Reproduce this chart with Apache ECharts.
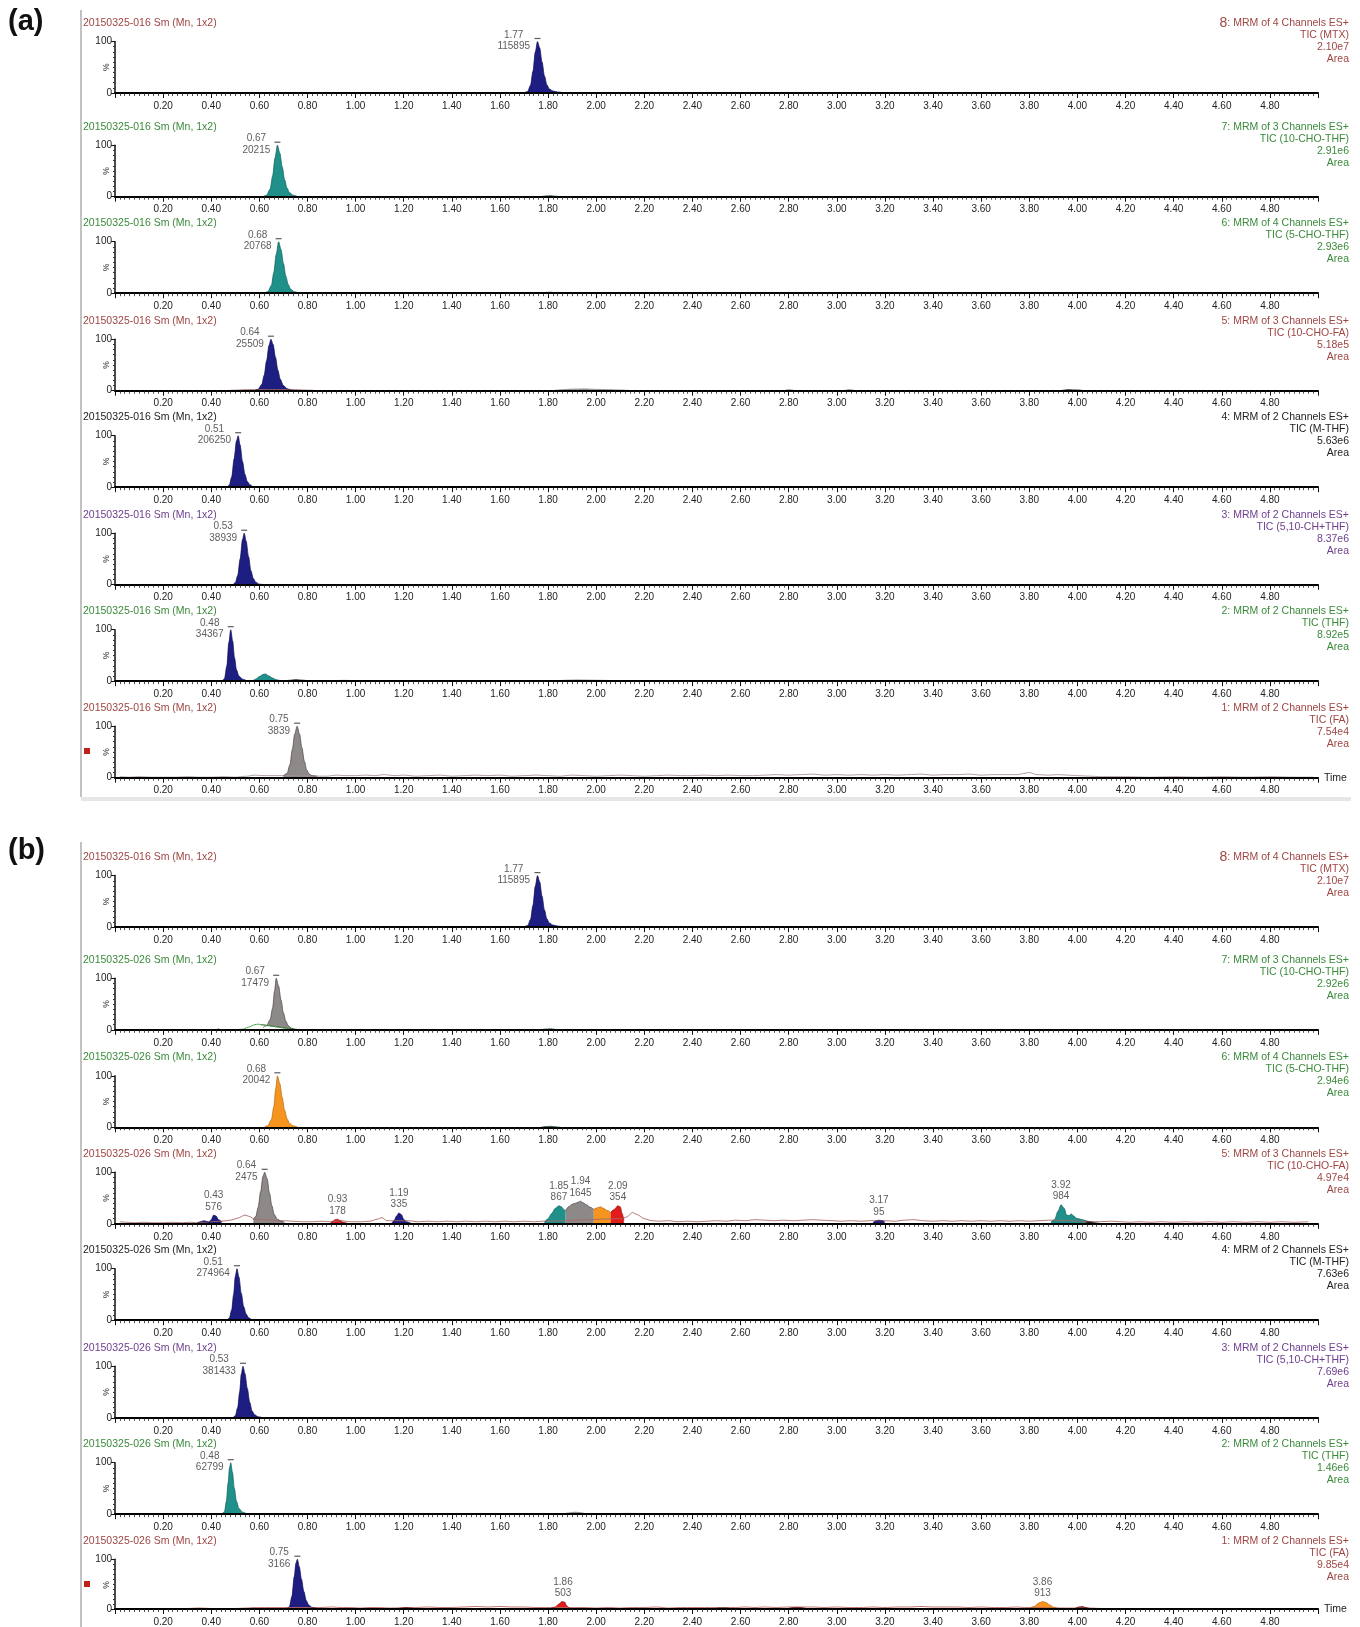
<!DOCTYPE html>
<html><head><meta charset="utf-8">
<script src="https://cdn.jsdelivr.net/npm/echarts/dist/echarts.min.js"></script>
<style>html,body{margin:0;padding:0;background:#fff}#c{width:1360px;height:1627px}</style>
</head><body><div id="c"></div>
<script>
const FONT='"Liberation Sans", Arial, Helvetica, sans-serif';

// ---------- text ----------
const headersA=['20150325-016 Sm (Mn, 1x2)','20150325-016 Sm (Mn, 1x2)','20150325-016 Sm (Mn, 1x2)','20150325-016 Sm (Mn, 1x2)','20150325-016 Sm (Mn, 1x2)','20150325-016 Sm (Mn, 1x2)','20150325-016 Sm (Mn, 1x2)','20150325-016 Sm (Mn, 1x2)'];
const headersB=['20150325-016 Sm (Mn, 1x2)','20150325-026 Sm (Mn, 1x2)','20150325-026 Sm (Mn, 1x2)','20150325-026 Sm (Mn, 1x2)','20150325-026 Sm (Mn, 1x2)','20150325-026 Sm (Mn, 1x2)','20150325-026 Sm (Mn, 1x2)','20150325-026 Sm (Mn, 1x2)'];
const channelsA=[
 ['8: MRM of 4 Channels ES+','TIC (MTX)','2.10e7','Area'],
 ['7: MRM of 3 Channels ES+','TIC (10-CHO-THF)','2.91e6','Area'],
 ['6: MRM of 4 Channels ES+','TIC (5-CHO-THF)','2.93e6','Area'],
 ['5: MRM of 3 Channels ES+','TIC (10-CHO-FA)','5.18e5','Area'],
 ['4: MRM of 2 Channels ES+','TIC (M-THF)','5.63e6','Area'],
 ['3: MRM of 2 Channels ES+','TIC (5,10-CH+THF)','8.37e6','Area'],
 ['2: MRM of 2 Channels ES+','TIC (THF)','8.92e5','Area'],
 ['1: MRM of 2 Channels ES+','TIC (FA)','7.54e4','Area']];
const channelsB=[
 ['8: MRM of 4 Channels ES+','TIC (MTX)','2.10e7','Area'],
 ['7: MRM of 3 Channels ES+','TIC (10-CHO-THF)','2.92e6','Area'],
 ['6: MRM of 4 Channels ES+','TIC (5-CHO-THF)','2.94e6','Area'],
 ['5: MRM of 3 Channels ES+','TIC (10-CHO-FA)','4.97e4','Area'],
 ['4: MRM of 2 Channels ES+','TIC (M-THF)','7.63e6','Area'],
 ['3: MRM of 2 Channels ES+','TIC (5,10-CH+THF)','7.69e6','Area'],
 ['2: MRM of 2 Channels ES+','TIC (THF)','1.46e6','Area'],
 ['1: MRM of 2 Channels ES+','TIC (FA)','9.85e4','Area']];

// ---------- (a) data: [time, %] ----------
const a1_mtx=[[1.70,0],[1.715,3],[1.727,15],[1.737,42],[1.747,80],[1.756,100],[1.765,88],[1.775,60],[1.785,33],[1.795,16],[1.805,8],[1.82,4],[1.84,2],[1.87,0]];
const a2_peak=[[0.615,0],[0.63,3],[0.645,15],[0.655,40],[0.665,75],[0.675,100],[0.685,85],[0.695,58],[0.705,33],[0.715,17],[0.725,8],[0.74,3],[0.76,0]];
const a2_minor=[[1.77,0],[1.79,1.5],[1.81,2],[1.83,1],[1.85,0]];
const a3_peak=[[0.62,0],[0.635,3],[0.65,15],[0.66,40],[0.67,75],[0.68,100],[0.69,85],[0.70,58],[0.71,33],[0.72,17],[0.73,8],[0.745,3],[0.765,0]];
const a3_minor=[[1.77,0],[1.79,1.5],[1.81,2],[1.83,1],[1.85,0]];
const a4_trace=[[0.45,0],[0.50,1],[0.55,2],[0.58,2],[0.75,2],[0.80,1],[0.85,0]];
const a4_peak=[[0.58,0],[0.595,3],[0.61,12],[0.62,30],[0.63,58],[0.64,88],[0.648,100],[0.657,90],[0.667,65],[0.677,40],[0.687,22],[0.70,10],[0.715,4],[0.735,1],[0.75,0]];
const a4_hump=[[1.82,0],[1.86,2],[1.90,3],[1.95,3.5],[2.00,2.5],[2.05,2],[2.10,1.5],[2.15,0]];
const a4_m1=[[2.78,0],[2.80,1.5],[2.83,0]];
const a4_m2=[[3.03,0],[3.05,1.5],[3.08,0]];
const a4_m3=[[3.93,0],[3.96,2],[4.00,1.5],[4.03,0]];
const a5_peak=[[0.465,0],[0.475,4],[0.485,20],[0.495,55],[0.505,90],[0.512,100],[0.52,82],[0.53,50],[0.54,25],[0.55,11],[0.56,5],[0.575,1],[0.59,0]];
const a6_peak=[[0.49,0],[0.50,4],[0.51,18],[0.52,50],[0.53,88],[0.537,100],[0.545,85],[0.555,55],[0.565,27],[0.575,12],[0.585,5],[0.60,1],[0.62,0]];
const a7_peak=[[0.445,0],[0.455,5],[0.465,30],[0.473,75],[0.481,100],[0.489,78],[0.497,45],[0.505,22],[0.515,10],[0.53,4],[0.55,1],[0.57,0]];
const a7_teal=[[0.57,0],[0.585,4],[0.60,9],[0.615,13],[0.625,14],[0.64,10],[0.655,6],[0.67,3],[0.69,1],[0.71,0]];
const a7_m1=[[0.70,0],[0.73,2],[0.75,3],[0.78,2],[0.81,0]];
const a7_m2=[[0.92,0],[0.93,1.5],[0.97,1.5],[0.98,0]];
const a7_m3=[[1.30,0],[1.31,1.5],[1.32,0]];
const a7_m4=[[1.82,0],[1.88,2],[1.92,2.5],[1.98,2],[2.05,1.5],[2.10,0]];
const a8_trace=[[0.02,2],[0.06,1],[0.10,2],[0.15,1],[0.20,1],[0.25,1],[0.30,2],[0.35,1],[0.40,1],[0.45,2],[0.50,1],[0.55,3],[0.58,5],[0.62,4],[0.66,4],[0.70,4],[0.84,3],[0.88,3],[0.92,5],[0.96,4],[1.00,4],[1.04,5],[1.08,4],[1.12,6],[1.16,4],[1.20,5],[1.25,3],[1.30,4],[1.35,5],[1.40,3],[1.45,4],[1.50,5],[1.55,4],[1.60,5],[1.65,3],[1.70,4],[1.75,5],[1.80,4],[1.85,3],[1.90,5],[1.95,4],[2.00,3],[2.05,4],[2.10,5],[2.15,4],[2.20,3],[2.25,4],[2.30,5],[2.35,4],[2.40,4],[2.45,5],[2.50,4],[2.55,5],[2.60,4],[2.65,4],[2.70,5],[2.75,6],[2.80,5],[2.85,6],[2.90,7],[2.95,5],[3.00,6],[3.05,5],[3.10,6],[3.15,5],[3.20,6],[3.25,5],[3.30,6],[3.35,7],[3.40,5],[3.45,6],[3.50,6],[3.55,7],[3.60,5],[3.65,6],[3.70,6],[3.75,6],[3.80,10],[3.83,6],[3.88,5],[3.92,6],[3.96,5],[4.00,4],[4.05,3],[4.10,2],[4.20,2],[4.30,1],[4.40,2],[4.50,1],[4.60,2],[4.70,1],[4.80,2],[4.90,1],[4.98,1]];
const a8_peak=[[0.70,4],[0.715,8],[0.727,25],[0.737,55],[0.747,85],[0.757,100],[0.767,85],[0.777,58],[0.787,32],[0.797,15],[0.807,7],[0.82,4],[0.84,3]];

// ---------- (b) data ----------
const b1_mtx=[[1.70,0],[1.715,3],[1.727,15],[1.737,42],[1.747,80],[1.756,100],[1.765,88],[1.775,60],[1.785,33],[1.795,16],[1.805,8],[1.82,4],[1.84,2],[1.87,0]];
const b2_peak=[[0.615,4],[0.63,8],[0.645,20],[0.655,42],[0.663,75],[0.67,100],[0.68,85],[0.69,58],[0.70,33],[0.71,17],[0.72,8],[0.735,3],[0.75,1],[0.77,0]];
const b2_base=[[0.605,10],[0.745,1]];
const b2_trace=[[0.50,0],[0.53,1],[0.56,6],[0.58,10],[0.595,11],[0.605,10],[0.745,1],[0.78,0]];
const b2_m1=[[0.42,0],[0.43,1.5],[0.44,0]];
const b2_m2=[[1.77,0],[1.79,1.5],[1.81,2],[1.84,0]];
const b3_peak=[[0.62,0],[0.635,3],[0.65,15],[0.66,40],[0.668,75],[0.675,100],[0.685,85],[0.695,58],[0.705,33],[0.715,17],[0.725,8],[0.74,3],[0.76,0]];
const b3_minor=[[1.77,0],[1.79,1.5],[1.81,2],[1.83,1],[1.85,0]];
const b4_trace=[[0.02,4],[0.05,3],[0.08,2],[0.12,3],[0.16,2],[0.20,2],[0.24,3],[0.28,2],[0.31,3],[0.34,2],[0.37,3],[0.40,4],[0.44,5],[0.48,7],[0.51,11],[0.54,17],[0.56,14],[0.58,9],[0.70,6],[0.74,5],[0.78,4],[0.82,4],[0.86,5],[0.90,4],[0.94,6],[0.98,4],[1.02,4],[1.06,5],[1.09,9],[1.11,12],[1.13,6],[1.16,6],[1.22,6],[1.26,4],[1.30,5],[1.34,4],[1.38,5],[1.42,4],[1.46,5],[1.50,4],[1.54,5],[1.58,4],[1.62,5],[1.66,4],[1.70,5],[1.74,4],[1.78,5],[2.11,10],[2.13,14],[2.15,22],[2.17,18],[2.20,10],[2.23,6],[2.26,5],[2.30,6],[2.34,4],[2.38,5],[2.42,4],[2.46,5],[2.50,6],[2.54,5],[2.58,7],[2.62,6],[2.66,8],[2.70,7],[2.74,6],[2.78,7],[2.82,6],[2.86,7],[2.90,8],[2.94,7],[2.98,6],[3.02,5],[3.06,6],[3.10,5],[3.14,6],[3.20,6],[3.24,5],[3.28,7],[3.32,8],[3.36,6],[3.40,5],[3.44,6],[3.48,5],[3.52,6],[3.56,5],[3.60,6],[3.64,5],[3.68,6],[3.72,5],[3.76,6],[3.80,5],[3.84,6],[3.88,7],[4.09,4],[4.14,5],[4.18,4],[4.22,3],[4.26,4],[4.30,3],[4.35,4],[4.40,3],[4.45,4],[4.50,3],[4.55,4],[4.60,3],[4.65,4],[4.70,3],[4.75,4],[4.80,3],[4.85,4],[4.90,3],[4.96,4]];
const b4_n1=[[0.34,1],[0.355,4],[0.37,6],[0.385,4],[0.395,2]];
const b4_n2=[[0.39,2],[0.40,8],[0.41,17],[0.42,15],[0.43,8],[0.445,3]];
const b4_gray1=[[0.575,8],[0.585,14],[0.595,32],[0.605,62],[0.615,92],[0.622,100],[0.632,88],[0.642,60],[0.652,35],[0.662,18],[0.675,9],[0.69,5],[0.705,3]];
const b4_red1=[[0.895,1],[0.905,5],[0.915,8],[0.925,9],[0.935,6],[0.95,3],[0.965,1]];
const b4_navy3=[[1.15,1],[1.16,6],[1.17,15],[1.18,21],[1.19,18],[1.20,9],[1.21,4],[1.23,1]];
const b4_teal1=[[1.785,3],[1.80,10],[1.815,20],[1.83,30],[1.845,35],[1.855,33],[1.865,28],[1.873,25]];
const b4_gray2=[[1.873,25],[1.885,33],[1.90,38],[1.915,40],[1.925,42],[1.935,44],[1.945,41],[1.96,37],[1.975,32],[1.99,28]];
const b4_orange=[[1.99,28],[2.005,31],[2.018,33],[2.03,30],[2.045,26],[2.06,22]];
const b4_red2=[[2.06,22],[2.075,28],[2.09,35],[2.10,33],[2.108,20],[2.115,6]];
const b4_navy4=[[3.15,2],[3.16,5],[3.175,7],[3.19,6],[3.20,3]];
const b4_teal2=[[3.89,3],[3.905,8],[3.92,25],[3.932,37],[3.945,30],[3.955,17],[3.965,16],[3.975,19],[3.985,15],[3.995,11],[4.005,10],[4.02,8],[4.035,6]];
const b4_tail=[[4.035,6],[4.05,4],[4.07,2],[4.09,1]];
const b5_peak=[[0.465,0],[0.475,4],[0.485,20],[0.493,50],[0.50,85],[0.507,100],[0.515,84],[0.525,52],[0.535,26],[0.545,12],[0.555,5],[0.57,1],[0.59,0]];
const b6_peak=[[0.49,0],[0.50,4],[0.51,20],[0.518,50],[0.525,85],[0.532,100],[0.54,86],[0.55,57],[0.56,30],[0.57,13],[0.58,6],[0.595,2],[0.615,0]];
const b7_peak=[[0.445,0],[0.455,5],[0.463,25],[0.47,60],[0.476,90],[0.481,100],[0.488,82],[0.496,50],[0.505,25],[0.515,11],[0.53,4],[0.55,1],[0.57,0]];
const b7_m1=[[1.86,0],[1.885,2.5],[1.91,4],[1.935,3],[1.96,0]];
const b7_m2=[[1.29,0],[1.30,1.5],[1.32,1],[1.33,0]];
const b7_m3=[[2.02,0],[2.06,1.2],[2.14,1.5],[2.22,1],[2.26,0]];
const b8_trace=[[0.02,1],[0.10,1],[0.20,1],[0.30,1],[0.35,2],[0.40,1],[0.45,1],[0.50,1],[0.55,2],[0.58,3],[0.62,3],[0.66,3],[0.70,3],[0.86,3],[0.90,4],[0.94,3],[0.98,3],[1.02,2],[1.06,3],[1.10,3],[1.14,2],[1.25,3],[1.30,4],[1.35,3],[1.40,3],[1.45,4],[1.50,5],[1.55,4],[1.60,5],[1.65,4],[1.70,4],[1.75,3],[1.80,3],[1.90,3],[1.95,3],[2.00,2],[2.05,3],[2.10,2],[2.15,3],[2.20,3],[2.25,4],[2.30,2],[2.35,3],[2.40,3],[2.45,3],[2.50,3],[2.58,3],[2.62,4],[2.66,3],[2.70,4],[2.75,3],[2.80,4],[2.90,4],[2.95,3],[3.00,4],[3.05,3],[3.10,3],[3.15,4],[3.20,3],[3.25,4],[3.30,4],[3.35,5],[3.40,4],[3.45,4],[3.50,4],[3.55,3],[3.60,4],[3.65,3],[3.70,3],[3.75,4],[3.78,3],[3.95,2],[4.05,2],[4.10,1],[4.20,1],[4.30,1],[4.40,1],[4.50,1],[4.60,1],[4.70,1],[4.80,1],[4.90,1],[4.98,1]];
const b8_peak=[[0.715,0],[0.725,5],[0.735,25],[0.745,65],[0.752,92],[0.758,100],[0.766,85],[0.775,60],[0.785,35],[0.795,17],[0.805,8],[0.82,3],[0.84,1],[0.86,0]];
const b8_red1=[[1.81,1],[1.83,4],[1.845,10],[1.858,15],[1.868,14],[1.878,6],[1.89,1]];
const b8_orange=[[3.80,1],[3.82,5],[3.84,12],[3.855,15],[3.87,13],[3.885,8],[3.90,4],[3.92,1]];
const b8_red2=[[3.99,1],[4.005,4],[4.02,5],[4.035,3],[4.05,1]];
const b8_m1=[[1.17,0],[1.19,2],[1.21,3],[1.23,2],[1.25,0]];
const b8_m2=[[2.49,0],[2.51,2],[2.54,2],[2.56,0]];
const b8_m3=[[2.79,0],[2.82,3],[2.85,3],[2.88,0]];

// ---------- peak labels: [time, %, RT, area] ----------
const labelsA=[
 [[1.756,100,'1.77','115895']],
 [[0.675,100,'0.67','20215']],
 [[0.68,100,'0.68','20768']],
 [[0.648,100,'0.64','25509']],
 [[0.512,100,'0.51','206250']],
 [[0.537,100,'0.53','38939']],
 [[0.481,100,'0.48','34367']],
 [[0.757,100,'0.75','3839']]];
const labelsB=[
 [[1.756,100,'1.77','115895']],
 [[0.67,100,'0.67','17479']],
 [[0.675,100,'0.68','20042']],
 [[0.41,17,'0.43','576'],[0.622,100,'0.64','2475'],[0.925,9,'0.93','178'],[1.18,21,'1.19','335'],[1.845,35,'1.85','867'],[1.935,44,'1.94','1645'],[2.09,35,'2.09','354'],[3.175,7,'3.17','95'],[3.932,37,'3.92','984']],
 [[0.507,100,'0.51','274964']],
 [[0.532,100,'0.53','381433']],
 [[0.481,100,'0.48','62799']],
 [[0.758,100,'0.75','3166'],[1.862,15,'1.86','503'],[3.855,15,'3.86','913']]];

// ---------- layout / style ----------
const HC={red:'#9e4643',green:'#3b8a3b',purple:'#6d3f8e',black:'#222222'};
const panelColors=[HC.red,HC.green,HC.green,HC.red,HC.black,HC.purple,HC.green,HC.red];
const topsA=[41.5,145.2,241.7,339.2,435.7,533.2,629.7,726.2];
const topsB=[875.6,978.3,1075.8,1172.3,1268.7,1366.3,1462.7,1559.2];
const PLOT_H=51.5;
const STY={
 navy:{fill:'#1d1d82',edge:'#0e0e55'},
 teal:{fill:'#20908a',edge:'#0f5e58'},
 gray:{fill:'#8e8989',edge:'#4a4040'},
 orange:{fill:'#f5951f',edge:'#b86a12'},
 red:{fill:'#e31b1b',edge:'#8a1010'},
 dark:{fill:'#2b2b2b',edge:'#111111'},
 darkgreen:{fill:'#2a6a4a',edge:'#1f5038'},
 darkred:{fill:'#7a2020',edge:'#5a1010'},
 white:{fill:'#ffffff',edge:'#444444'},
 light:{fill:'#a09a9a',edge:'#777777'},
 traceBrown:{line:'#a86a64'},
 traceGray:{line:'#a39391'},
 traceGreen:{line:'#3a9a3a'},
 traceRed:{line:'#b8625c'}
};
const layersA=[
 [[a1_mtx,'navy']],
 [[a2_peak,'teal'],[a2_minor,'darkgreen']],
 [[a3_peak,'teal'],[a3_minor,'darkgreen']],
 [[a4_trace,'traceBrown'],[a4_peak,'navy'],[a4_hump,'light'],[a4_m1,'dark'],[a4_m2,'dark'],[a4_m3,'dark']],
 [[a5_peak,'navy']],
 [[a6_peak,'navy']],
 [[a7_peak,'navy'],[a7_teal,'teal'],[a7_m1,'dark'],[a7_m2,'dark'],[a7_m3,'dark'],[a7_m4,'light']],
 [[a8_trace,'traceGray'],[a8_peak,'gray']]];
const layersB=[
 [[b1_mtx,'navy']],
 [[b2_peak,'gray'],[b2_base,'white'],[b2_trace,'traceGreen'],[b2_m1,'dark'],[b2_m2,'darkgreen']],
 [[b3_peak,'orange'],[b3_minor,'darkgreen']],
 [[b4_trace,'traceBrown'],[b4_n1,'navy'],[b4_n2,'navy'],[b4_gray1,'gray'],[b4_red1,'red'],[b4_navy3,'navy'],[b4_teal1,'teal'],[b4_gray2,'gray'],[b4_orange,'orange'],[b4_red2,'red'],[b4_navy4,'navy'],[b4_teal2,'teal'],[b4_tail,'dark']],
 [[b5_peak,'navy']],
 [[b6_peak,'navy']],
 [[b7_peak,'teal'],[b7_m1,'light'],[b7_m2,'dark'],[b7_m3,'dark']],
 [[b8_trace,'traceRed'],[b8_peak,'navy'],[b8_red1,'red'],[b8_orange,'orange'],[b8_red2,'darkred'],[b8_m1,'darkred'],[b8_m2,'dark'],[b8_m3,'darkred']]];

const option={animation:false,backgroundColor:'#ffffff',grid:[],xAxis:[],yAxis:[],series:[],graphic:[]};

function txt(x,y,text,fill,size,align,extra){
  const st=Object.assign({text:text,fill:fill,font:size+'px '+FONT,align:align,verticalAlign:'middle',textAlign:align,textVerticalAlign:'middle'},extra||{});
  return {type:'text',x:x,y:y,silent:true,style:st};
}

function addPanel(gi,top,header,hc,chan,layers,labels,last,first){
  option.grid.push({left:115,width:1203,top:top,height:PLOT_H});
  option.xAxis.push({gridIndex:gi,type:'value',min:0,max:5,interval:0.2,z:10,
    axisLine:{show:true,onZero:false,lineStyle:{color:'#000',width:2}},
    axisTick:{show:true,length:5,lineStyle:{color:'#111',width:1}},
    minorTick:{show:true,splitNumber:10,length:3,lineStyle:{color:'#222',width:0.8}},
    splitLine:{show:false},minorSplitLine:{show:false},
    axisLabel:{show:true,showMinLabel:false,showMaxLabel:false,formatter:v=>v.toFixed(2),fontSize:10,color:'#222',margin:8,fontFamily:FONT},
    name:last?'Time':'',nameLocation:'end',nameGap:6,nameTextStyle:{fontSize:10.5,color:'#222',fontFamily:FONT}
  });
  option.yAxis.push({gridIndex:gi,type:'value',min:0,max:100,interval:100,z:10,
    axisLine:{show:true,lineStyle:{color:'#111',width:1.5}},
    axisTick:{show:true,length:4,lineStyle:{color:'#111'}},
    minorTick:{show:true,splitNumber:10,length:2,lineStyle:{color:'#333'}},
    splitLine:{show:false},
    axisLabel:{fontSize:10,color:'#222',margin:3,fontFamily:FONT}
  });
  layers.forEach(([data,kind])=>{
    const st=STY[kind];
    if(st.line){
      option.series.push({type:'line',xAxisIndex:gi,yAxisIndex:gi,data:data,symbol:'none',smooth:0.2,smoothMonotone:'x',
        lineStyle:{color:st.line,width:0.9},z:3,silent:true});
    }else{
      option.series.push({type:'line',xAxisIndex:gi,yAxisIndex:gi,data:data,symbol:'none',smooth:0.3,smoothMonotone:'x',
        lineStyle:{color:st.edge,width:0.7},areaStyle:{color:st.fill,opacity:1,origin:'start'},z:3,silent:true});
    }
  });
  option.series.push({type:'scatter',xAxisIndex:gi,yAxisIndex:gi,silent:true,z:6,
    data:labels.map(([t,h,l1,l2])=>{
      const tall=h>=60;
      const w=Math.max(l1.length,l2.length)*5.6;
      return {value:[t,h],symbol:'rect',symbolSize:tall?[6,1.2]:[1,1],symbolOffset:[0,-3],
        itemStyle:{color:tall?'#333':'rgba(0,0,0,0)'},
        label:{show:true,position:'inside',offset:tall?[-(7+w/2),2]:[0,-11],formatter:l1+'\n'+l2,
          fontSize:10,lineHeight:11.5,color:'#333',fontFamily:FONT,align:'center',verticalAlign:'middle'}};
    })});
  // "%" axis name, headers
  option.graphic.push({type:'text',x:107,y:top+PLOT_H/2,rotation:Math.PI/2,silent:true,
    style:{text:'%',fill:'#333',font:'8.5px '+FONT,align:'center',verticalAlign:'middle',textAlign:'center',textVerticalAlign:'middle'}});
  option.graphic.push(txt(83,top-18.5,header,hc,10.5,'left'));
  chan.forEach((line,j)=>{
    if(j===0&&first){
      const idx=line.split(':')[0];
      option.graphic.push(txt(1349,top-18.5,'{b|'+idx+'}'+line.slice(idx.length),hc,10.5,'right',{rich:{b:{fontSize:14,fill:hc,font:'14px '+FONT}}}));
    }else{
      option.graphic.push(txt(1349,top-18.5+j*12.1,line,hc,10.5,'right'));
    }
  });
}

for(let i=0;i<8;i++) addPanel(i,topsA[i],headersA[i],panelColors[i],channelsA[i],layersA[i],labelsA[i],i===7,i===0);
for(let i=0;i<8;i++) addPanel(8+i,topsB[i],headersB[i],panelColors[i],channelsB[i],layersB[i],labelsB[i],i===7,i===0);

// frame, panel letters, marker squares
option.graphic.push({type:'line',silent:true,shape:{x1:81,y1:10,x2:81,y2:797},style:{stroke:'#999',lineWidth:1.2}});
option.graphic.push({type:'line',silent:true,shape:{x1:81,y1:842,x2:81,y2:1627},style:{stroke:'#999',lineWidth:1.2}});
option.graphic.push({type:'rect',silent:true,shape:{x:81,y:797,width:1270,height:4},style:{fill:'#e6e6e6'}});
option.graphic.push(txt(8,22,'(a)','#111',29,'left',{font:'bold 29px '+FONT}));
option.graphic.push(txt(8,851,'(b)','#111',29,'left',{font:'bold 29px '+FONT}));
option.graphic.push({type:'rect',silent:true,shape:{x:84,y:748,width:6,height:6},style:{fill:'#c0201c'}});
option.graphic.push({type:'rect',silent:true,shape:{x:84,y:1581,width:6,height:6},style:{fill:'#c0201c'}});

const chart=echarts.init(document.getElementById('c'),null,{renderer:'canvas'});
chart.setOption(option);
</script></body></html>
